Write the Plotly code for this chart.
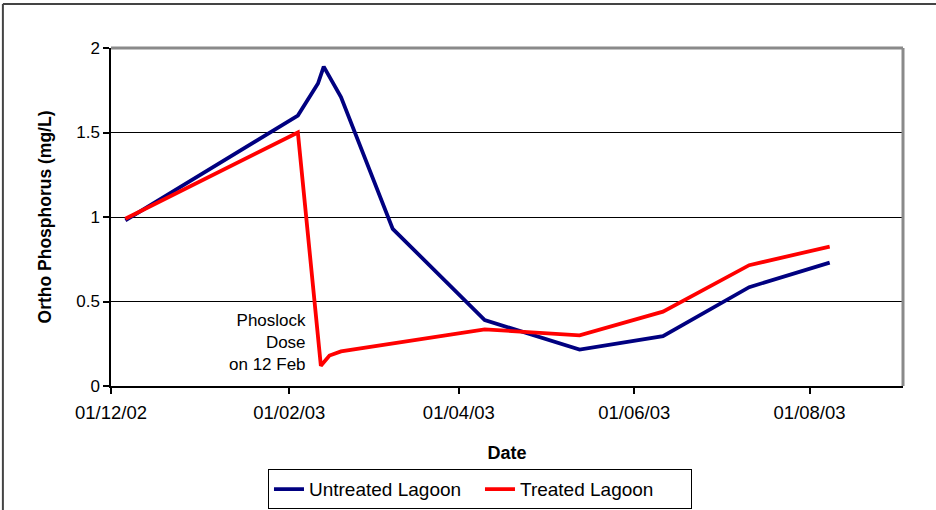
import plotly.graph_objects as go

# Sampling dates and ortho-phosphorus readings (mg/L)
untreated_dates = ["2002-12-06", "2003-02-04", "2003-02-11", "2003-02-13", "2003-02-19",
                   "2003-03-09", "2003-04-10", "2003-05-13", "2003-06-11", "2003-07-11",
                   "2003-08-08"]
untreated_vals = [0.98, 1.60, 1.79, 1.89, 1.71, 0.93, 0.39, 0.215, 0.295, 0.585, 0.73]

treated_dates = ["2002-12-06", "2003-02-04", "2003-02-12", "2003-02-15", "2003-02-19",
                 "2003-04-10", "2003-05-13", "2003-06-11", "2003-07-11", "2003-08-08"]
treated_vals = [0.99, 1.50, 0.12, 0.18, 0.205, 0.335, 0.30, 0.44, 0.715, 0.825]

tick_dates = ["2002-12-01", "2003-02-01", "2003-04-01", "2003-06-01", "2003-08-01"]
tick_labels = ["01/12/02", "01/02/03", "01/04/03", "01/06/03", "01/08/03"]
y_ticks = [0, 0.5, 1, 1.5, 2]
y_tick_labels = ["0", "0.5", "1", "1.5", "2"]

FONT = "Liberation Sans, Arial, sans-serif"

fig = go.Figure()
fig.add_trace(go.Scatter(x=untreated_dates, y=untreated_vals, mode="lines",
                         name="Untreated Lagoon",
                         line=dict(color="#000080", width=3.8)))
fig.add_trace(go.Scatter(x=treated_dates, y=treated_vals, mode="lines",
                         name="Treated Lagoon",
                         line=dict(color="#FF0000", width=3.8)))

# Dose note beside the drop in the treated lagoon
fig.add_annotation(x="2003-02-07 12:00", y=0.257, xref="x", yref="y",
                   text="Phoslock<br>Dose<br>on 12 Feb", showarrow=False,
                   xanchor="right", yanchor="middle", align="right",
                   font=dict(family=FONT, size=17, color="#000"))

# Grey frame on top and right of the plot area
fig.add_shape(type="line", xref="paper", yref="paper", x0=0, x1=1, y0=1, y1=1,
              line=dict(color="#8a8a8a", width=3))
fig.add_shape(type="line", xref="paper", yref="paper", x0=1, x1=1, y0=0, y1=1,
              line=dict(color="#8a8a8a", width=3))
# Outer chart frame (left and top edges)
fig.add_shape(type="line", xref="paper", yref="paper", x0=-0.1365, x1=1.05,
              y0=1.130, y1=1.130, line=dict(color="#444", width=2))
fig.add_shape(type="line", xref="paper", yref="paper", x0=-0.1365, x1=-0.1365,
              y0=-0.40, y1=1.130, line=dict(color="#444", width=2))

fig.update_layout(
    width=936, height=510,
    margin=dict(l=111, r=33, t=48, b=124),
    paper_bgcolor="white", plot_bgcolor="white",
    font=dict(family=FONT, size=17, color="#000"),
    showlegend=True,
    legend=dict(orientation="h", xref="container", yref="container",
                x=0.5128, y=0.080, xanchor="center", yanchor="top",
                bordercolor="#000", borderwidth=1, bgcolor="white",
                font=dict(family=FONT, size=19, color="#000"),
                itemwidth=30, entrywidth=166, tracegroupgap=0),
)

fig.update_xaxes(
    type="date", range=["2002-12-01", "2003-09-02 12:00"], automargin=False,
    tickmode="array", tickvals=tick_dates, ticktext=tick_labels,
    ticks="outside", ticklen=6, tickwidth=1.5, tickcolor="#000",
    ticklabelstandoff=3,
    showline=True, linecolor="#000", linewidth=1.5,
    showgrid=False, zeroline=False,
    tickfont=dict(family=FONT, size=18.5, color="#000"),
    title=dict(text="<b>Date</b>", font=dict(family=FONT, size=18, color="#000"),
               standoff=24),
)
fig.update_yaxes(
    range=[0, 2], tickmode="array", tickvals=y_ticks, ticktext=y_tick_labels,
    automargin=False,
    ticks="outside", ticklen=6, tickwidth=1.5, tickcolor="#000",
    showline=True, linecolor="#000", linewidth=1.5,
    showgrid=True, gridcolor="#000", gridwidth=1, zeroline=False,
    tickfont=dict(family=FONT, size=17, color="#000"),
    title=dict(text="<b>Ortho Phosphorus (mg/L)</b>",
               font=dict(family=FONT, size=17.5, color="#000"), standoff=20),
)

fig.write_html("out.html")
